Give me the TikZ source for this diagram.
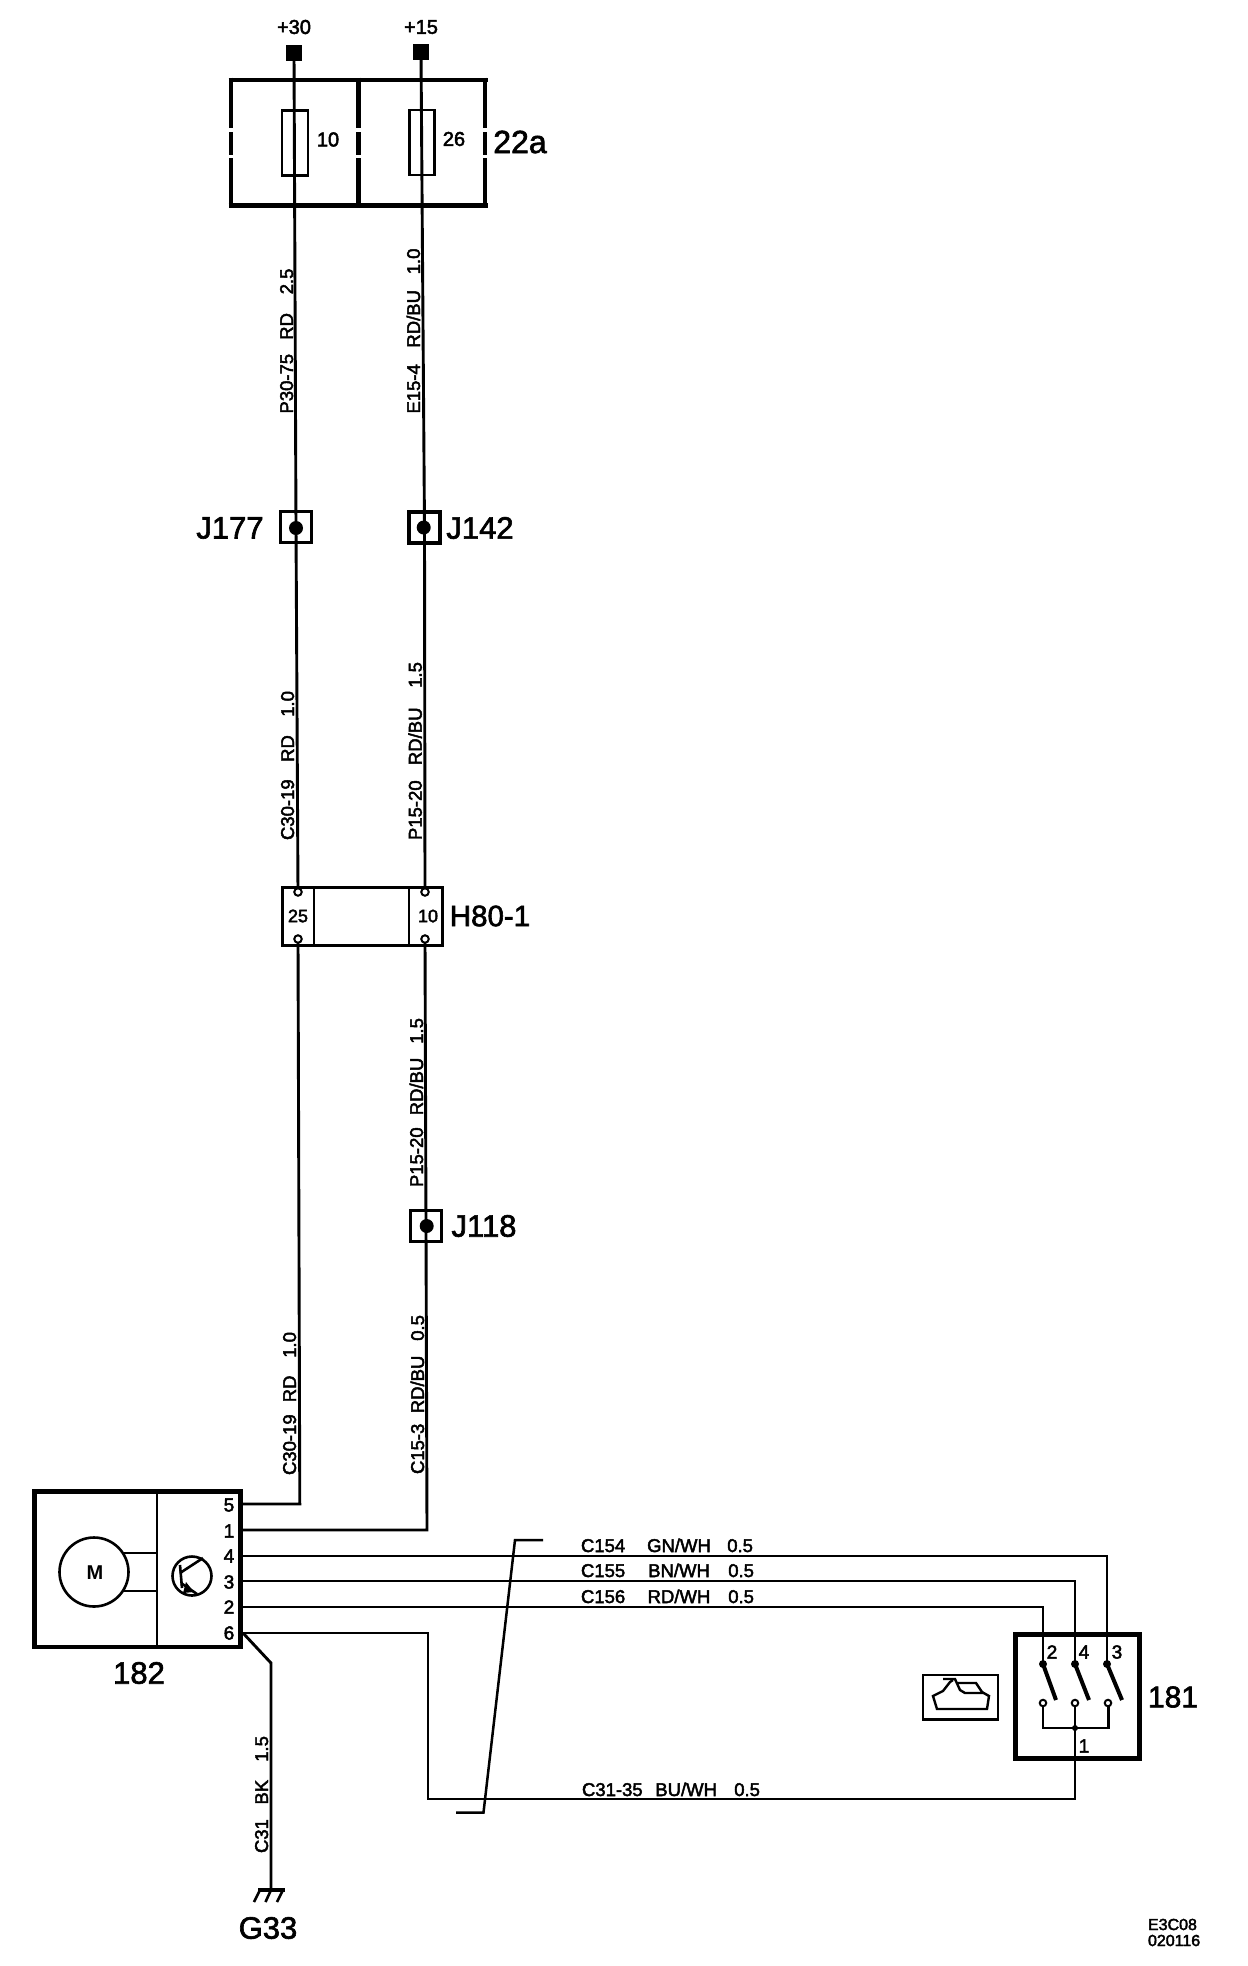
\documentclass[tikz,border=0pt]{standalone}
\usepackage{fontspec}
\setmainfont{Liberation Sans}
\newfontfamily\thk[FakeBold=2.5]{Liberation Sans}
\newfontfamily\thkb[FakeBold=2]{Liberation Sans}
\usetikzlibrary{calc}
\newcommand{\wirelab}[6]{\makebox[#1pt][s]{#2\hspace{0pt plus #3fil}#4\hspace{0pt plus #5fil}#6}}
\tikzset{
  x=1pt,y=-1pt,
  every node/.style={inner sep=0pt,outer sep=0pt},
  wire/.style={line width=2.9pt,line join=miter,line cap=butt},
  thin wire/.style={line width=2.5pt,line join=miter},
  heavy/.style={line width=4.8pt,line cap=butt,line join=miter},
  frame/.style={draw,line width=4.8pt,minimum width=0pt},
  fuse/.style={draw,line width=2.6pt},
  term/.style={fill=black,minimum size=16pt},
  joint/.style={draw,line width=3.2pt,minimum size=31pt},
  dot/.style={circle,fill=black,minimum size=14pt},
  pinhole/.style={circle,draw,fill=white,line width=2pt,minimum size=7.5pt},
  contact/.style={circle,draw,fill=white,line width=2pt,minimum size=6.5pt},
  small/.style={font=\thk\fontsize{18.5}{19}\selectfont},
  wiretext/.style={small,anchor=base west},
  vtext/.style={small,rotate=90,anchor=base west},
  pinnum/.style={font=\thk\fontsize{19}{19}\selectfont},
  big/.style={font=\thkb\fontsize{31}{31}\selectfont},
  tiny/.style={font=\thk\fontsize{16}{16}\selectfont,anchor=base west},
}
\begin{document}
\begin{tikzpicture}
\useasboundingbox[fill=white] (0,0) rectangle (1248,1966);
% fuse box 22a
\draw[heavy] (228.5,80) -- (488,80);
\draw[heavy] (228.5,205.5) -- (488,205.5);
\foreach \xx in {231,358.5,485}{
  \draw[heavy] (\xx,77.6) -- (\xx,128);
  \draw[heavy] (\xx,132) -- (\xx,155);
  \draw[heavy] (\xx,158) -- (\xx,208);
}
% supply terminals and fuses
\node[term] (t30) at (294,53) {};
\node[term] (t15) at (421,52) {};
\node[anchor=center,font=\thk\fontsize{20}{20}\selectfont] (l30) at (294,27) {+30};
\node[anchor=center,font=\thk\fontsize{20}{20}\selectfont] (l15) at (421,27) {+15};
\node[fuse,minimum width=26pt,minimum height=65pt] (f10) at (295,143) {};
\node[fuse,minimum width=25.5pt,minimum height=65pt] (f26) at (422,142.5) {};
\node[font=\thk\fontsize{20}{20}\selectfont] (n10) at (328,139.5) {10};
\node[font=\thk\fontsize{20}{20}\selectfont] (n26) at (454,139) {26};
\node[font=\thkb\fontsize{32}{32}\selectfont] (n22a) at (520,142) {22a};
% junctions
\node[joint] (j177) at (296,527) {};
\node[dot] (d177) at (296,528) {};
\node[joint] (j142) at (424.5,527.5) {};
\node[dot] (d142) at (423.7,527.5) {};
\node[joint] (j118) at (426,1226) {};
\node[dot] (d118) at (426.7,1226) {};
\node[big] (lj177) at (230,528) {J177};
\node[big] (lj142) at (480,528) {J142};
\node[big] (lj118) at (484,1226) {J118};
% connector H80-1
\draw[line width=3pt] (282.5,887) rectangle (442,945);
\draw[line width=2.8pt] (314,887) -- (314,945);
\draw[line width=2.8pt] (409,887) -- (409,945);
\node[pinhole] (h25t) at (298,892) {};
\node[pinhole] (h25b) at (298,939) {};
\node[pinhole] (h10t) at (425,892) {};
\node[pinhole] (h10b) at (425,939) {};
\node[font=\thk\fontsize{18}{18}\selectfont] (n25) at (298,916) {25};
\node[font=\thk\fontsize{18}{18}\selectfont] (n10b) at (428,916) {10};
\node[font=\thkb\fontsize{29.5}{29.5}\selectfont] (lh80) at (490,916) {H80-1};
% module 182
\draw[line width=4.8pt] (34.5,1491.5) rectangle (240.5,1647);
\draw[thin wire] (157,1491) -- (157,1647);
\node[circle,draw,line width=2.6pt,minimum size=69pt] (motor) at (94,1572) {};
\node[font=\bfseries\fontsize{20}{20}\selectfont] (lm) at (95,1573) {M};
\draw[thin wire] (124,1553) -- (157,1553);
\draw[thin wire] (124,1591) -- (157,1591);
\node[circle,draw,line width=2.6pt,minimum size=39pt] (tr) at (192,1576) {};
\draw[line width=2.6pt] (180,1565) -- (182,1588);
\draw[line width=2.6pt] (180,1573) -- (203,1558);
\draw[line width=2.6pt] (181,1583) -- (197,1594);
\fill (186,1582) -- (194,1592) -- (183,1593) -- cycle;
\node[pinnum] (p5) at (229,1505) {5};
\node[pinnum] (p1) at (229,1531) {1};
\node[pinnum] (p4) at (229,1556) {4};
\node[pinnum] (p3) at (229,1582) {3};
\node[pinnum] (p2) at (229,1607) {2};
\node[pinnum] (p6) at (229,1633) {6};
\node[big] (l182) at (139,1673) {182};
\coordinate (e5) at (243,1504);
\coordinate (e1) at (243,1530);
\coordinate (e4) at (243,1556);
\coordinate (e3) at (243,1581);
\coordinate (e2) at (243,1607);
\coordinate (e6) at (243,1633);
% switch 181
\draw[line width=4.8pt] (1015.5,1634.5) rectangle (1139.5,1758.5);
\node[pinnum] (s2) at (1052,1652) {2};
\node[pinnum] (s4) at (1084,1652) {4};
\node[pinnum] (s3) at (1117,1652) {3};
\node[pinnum] (s1) at (1084,1746) {1};
\node[font=\thkb\fontsize{30}{30}\selectfont] (l181) at (1173,1697) {181};
\node[circle,fill=black,minimum size=8pt] (a2) at (1043,1664) {};
\node[circle,fill=black,minimum size=8pt] (a4) at (1075,1664) {};
\node[circle,fill=black,minimum size=8pt] (a3) at (1107,1664) {};
\coordinate (b2) at (1056,1700);
\coordinate (b4) at (1089,1700);
\coordinate (b3) at (1122,1700);
\draw[line width=4pt] (a2.center) -- (b2);
\draw[line width=4pt] (a4.center) -- (b4);
\draw[line width=4pt] (a3.center) -- (b3);
\coordinate (k2) at (1043,1728);
\coordinate (k4) at (1075,1728);
\coordinate (k3) at (1108.5,1728);
\draw[thin wire] (1043,1703) -- (k2) -- (k3) -- (1108.5,1703);
\node[circle,fill=black,minimum size=6pt] (kdot) at (k4) {};
\node[contact] (c2) at (1043,1703) {};
\node[contact] (c4) at (1075,1703) {};
\node[contact] (c3) at (1108,1703) {};
% lamp icon
\draw[line width=2.6pt] (923,1675) rectangle (998,1719.5);
\draw[line width=2.4pt] (943,1679) -- (955,1679) -- (960,1690) -- (965,1693) -- (983,1693);
\draw[line width=2.4pt] (953,1680) -- (950,1682) -- (943,1691) -- (933,1696) -- (937,1709) -- (987,1709) -- (989,1696) -- (982,1692) -- (976,1683) -- (958,1683);
% wires
\draw[wire] (t30.center) -- (j177.center);
\draw[wire] (t15.center) -- (j142.center);
\draw[wire] (j177.center) -- (h25t);
\draw[wire] (j142.center) -- (h10t);
\draw[wire] (h25b) -- (299.8,1504) -- (e5);
\draw[wire] (h10b) -- (j118.center);
\draw[wire] (j118.center) -- (427,1530) -- (e1);
\draw[wire] (e4) -- (1107,1556) -- (a3.center);
\draw[wire] (e3) -- (1075,1581) -- (a4.center);
\draw[wire] (e2) -- (1043,1607) -- (a2.center);
\draw[wire] (e6) -- (428,1633) -- (428,1799) -- (1075,1799) -- (c4);
\coordinate (g33) at (271,1889);
\draw[wire] (e6) -- (271,1663) -- (g33);
% ground
\draw[line width=4pt] (258,1889.5) -- (285,1889.5);
\draw[line width=2.6pt] (260,1890) -- (254,1902);
\draw[line width=2.6pt] (271,1890) -- (265.5,1902);
\draw[line width=2.6pt] (283,1890) -- (277,1902);
\node[big] (lg33) at (268,1928) {G33};
% twist bracket
\coordinate (tw1) at (456,1812.5);
\coordinate (tw2) at (483.5,1812.5);
\coordinate (tw3) at (515,1540);
\coordinate (tw4) at (543,1540);
\draw[thin wire] (tw1) -- (tw2) -- (tw3) -- (tw4);
% wire labels
\node[wiretext] (w1) at (581,1552) {\wirelab{172}{C154}{20}{GN/WH}{15}{0.5}};
\node[wiretext] (w2) at (581,1577) {\wirelab{173}{C155}{20}{BN/WH}{16}{0.5}};
\node[wiretext] (w3) at (581,1603) {\wirelab{173}{C156}{20}{RD/WH}{16}{0.5}};
\node[wiretext] (w4) at (582,1796) {\wirelab{178}{C31-35}{11}{BU/WH}{15}{0.5}};
\node[vtext] (v1) at (293,413.5) {\wirelab{145}{P30-75}{15}{RD}{20}{2.5}};
\node[vtext] (v2) at (420,413.5) {\wirelab{165}{E15-4}{20}{RD/BU}{19}{1.0}};
\node[vtext] (v3) at (294,840) {\wirelab{149}{C30-19}{19}{RD}{20}{1.0}};
\node[vtext] (v4) at (421.7,840) {\wirelab{178}{P15-20}{17}{RD/BU}{22}{1.5}};
\node[vtext] (v5) at (423,1187) {\wirelab{169}{P15-20}{13}{RD/BU}{15}{1.5}};
\node[vtext] (v6) at (296,1475) {\wirelab{143}{C30-19}{15}{RD}{22}{1.0}};
\node[vtext] (v7) at (424,1474) {\wirelab{159}{C15-3}{12}{RD/BU}{17}{0.5}};
\node[vtext] (v8) at (268,1853) {\wirelab{117}{C31}{17}{BK}{21}{1.5}};
\node[tiny] (r1) at (1148,1930) {E3C08};
\node[tiny] (r2) at (1148,1946) {020116};
\end{tikzpicture}
\end{document}
